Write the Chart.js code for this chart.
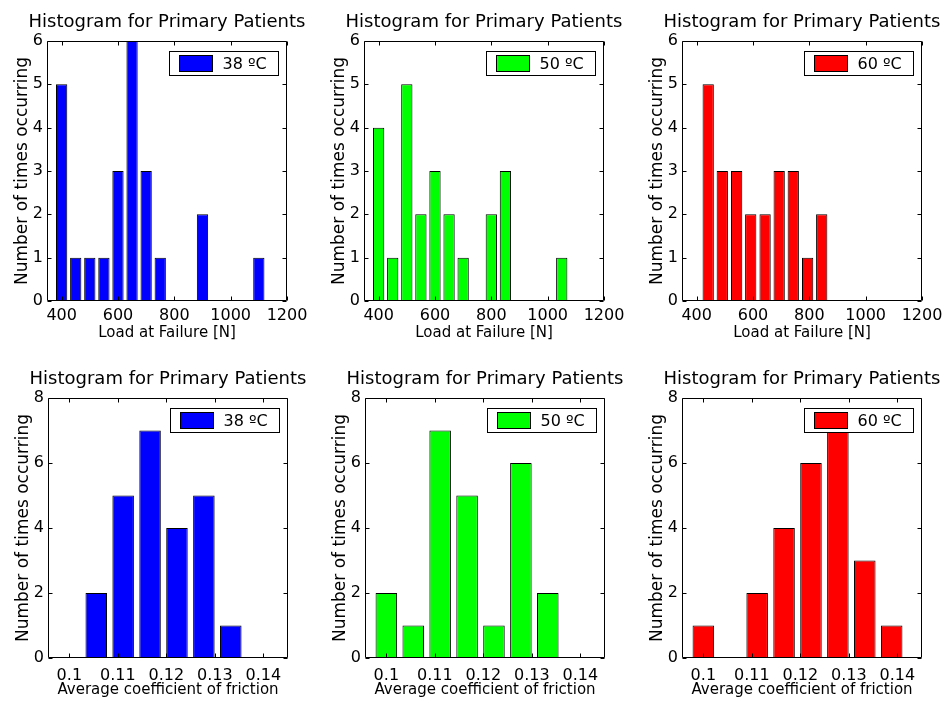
<!DOCTYPE html>
<html>
<head>
<meta charset="utf-8">
<title>Histogram for Primary Patients</title>
<script src="https://cdn.jsdelivr.net/npm/chart.js@4"></script>
<style>
  html, body { margin: 0; padding: 0; background: #fff; width: 944px; height: 708px; overflow: hidden; }
  canvas { position: absolute; }
</style>
</head>
<body>
<canvas id="load38" width="320" height="350" style="left:7px;top:0px"></canvas>
<canvas id="load50" width="320" height="350" style="left:324px;top:0px"></canvas>
<canvas id="load60" width="320" height="350" style="left:642px;top:0px"></canvas>
<canvas id="fric38" width="320" height="358" style="left:8px;top:350px"></canvas>
<canvas id="fric50" width="320" height="358" style="left:325px;top:350px"></canvas>
<canvas id="fric60" width="320" height="358" style="left:642px;top:350px"></canvas>
<script>
// values
const loadBins = [400, 450, 500, 550, 600, 650, 700, 750, 800, 850, 900, 950, 1000, 1050, 1100, 1150, 1200];
const load38Counts = [5, 1, 1, 1, 3, 6, 3, 1, 0, 0, 2, 0, 0, 0, 1, 0, 0];
const load50Counts = [4, 1, 5, 2, 3, 2, 1, 0, 2, 3, 0, 0, 0, 1, 0, 0, 0];
const load60Bins = [441, 491, 542, 592, 643, 693, 743, 794, 844, 894, 945, 995, 1045, 1096, 1146, 1196];
const load60Counts = [5, 3, 3, 2, 2, 3, 3, 1, 2, 0, 0, 0, 0, 0, 0, 0];

const frictionBins = [0.1, 0.10555, 0.1111, 0.11665, 0.1222, 0.12775, 0.1333, 0.13885, 0.1444];
const fric38Counts = [0, 2, 5, 7, 4, 5, 1, 0, 0];
const fric50Counts = [2, 1, 7, 5, 1, 6, 2, 0, 0];
const fric60Counts = [1, 0, 2, 4, 6, 7, 3, 1, 0];

const loadTicks = [400, 600, 800, 1000, 1200];
const frictionTicks = [0.1, 0.11, 0.12, 0.13, 0.14];
const loadCountTicks = [0, 1, 2, 3, 4, 5, 6];
const frictionCountTicks = [0, 2, 4, 6, 8];

const tempLabels = ['38 ºC', '50 ºC', '60 ºC'];
const tempColors = ['#0000ff', '#00ff00', '#ff0000'];
const plotTitle = 'Histogram for Primary Patients';

Chart.defaults.font.family = '"DejaVu Sans", sans-serif';
Chart.defaults.color = '#000';

// matlab style title, box, inward tick marks and legend inside the axes
const matlabAxes = {
    id: 'matlabAxes',
    afterDatasetsDraw(chart, args, opts) {
        const ctx = chart.ctx;
        const a = chart.chartArea;
        const x = chart.scales.x, y = chart.scales.y;
        const l = Math.round(a.left) + 0.5, r = Math.round(a.right) - 0.5;
        const t = Math.round(a.top) + 0.5, b = Math.round(a.bottom) - 0.5;
        ctx.save();

        // title centred over the axes, may run wider than them
        ctx.fillStyle = '#000';
        ctx.font = '18px "DejaVu Sans"';
        ctx.textAlign = 'center';
        ctx.textBaseline = 'alphabetic';
        ctx.fillText(opts.title, (a.left + a.right) / 2, a.top - 14);

        ctx.strokeStyle = '#000';
        ctx.lineWidth = 1;
        ctx.beginPath();
        ctx.rect(l, t, r - l, b - t);
        x.ticks.forEach(tk => {
            const px = Math.round(x.getPixelForValue(tk.value)) + 0.5;
            ctx.moveTo(px, b); ctx.lineTo(px, b - 4);
            ctx.moveTo(px, t); ctx.lineTo(px, t + 4);
        });
        y.ticks.forEach(tk => {
            const py = Math.round(y.getPixelForValue(tk.value)) + 0.5;
            ctx.moveTo(l, py); ctx.lineTo(l + 4, py);
            ctx.moveTo(r, py); ctx.lineTo(r - 4, py);
        });
        ctx.stroke();

        const ds = chart.data.datasets[0];
        const bw = 109, bh = 24;
        const bx = Math.round(a.right - 9 - bw) + 0.5;
        const by = Math.round(a.top + 10) + 0.5;
        ctx.fillStyle = '#fff';
        ctx.fillRect(bx, by, bw, bh);
        ctx.strokeRect(bx, by, bw, bh);
        ctx.fillStyle = ds.backgroundColor;
        ctx.fillRect(bx + 10, by + 4, 33, 16);
        ctx.strokeRect(bx + 10, by + 4, 33, 16);
        ctx.fillStyle = '#000';
        ctx.font = '16px "DejaVu Sans"';
        ctx.textBaseline = 'middle';
        ctx.textAlign = 'left';
        ctx.fillText(ds.label, bx + 53, by + bh / 2 + 1);
        ctx.restore();
    }
};

function histChart(canvasId, bins, counts, label, color, isLoad) {
    const ctx = document.getElementById(canvasId).getContext('2d');
    const xTicks = isLoad ? loadTicks : frictionTicks;
    const yTicks = isLoad ? loadCountTicks : frictionCountTicks;
    return new Chart(ctx, {
        type: 'bar',
        data: {
            datasets: [{
                label: label,
                data: bins.map((b, i) => ({ x: b, y: counts[i] })),
                backgroundColor: color,
                borderColor: '#000',
                borderWidth: 1,
                borderSkipped: false,
                barPercentage: 0.8,
                categoryPercentage: 1
            }]
        },
        options: {
            responsive: false,
            animation: false,
            layout: { padding: { left: 0, right: 40, top: isLoad ? 41 : 48, bottom: 0 } },
            plugins: {
                legend: { display: false },
                tooltip: { enabled: false },
                title: { display: false },
                matlabAxes: { title: plotTitle }
            },
            scales: {
                x: {
                    type: 'linear',
                    offset: false,
                    min: isLoad ? 348 : 0.0956,
                    max: isLoad ? 1200 : 0.1451,
                    grid: { display: false, drawTicks: false },
                    border: { display: false },
                    afterBuildTicks: s => { s.ticks = xTicks.map(v => ({ value: v })); },
                    afterFit: s => { s.height = isLoad ? 49 : 50; },
                    ticks: { font: { size: 16 }, padding: isLoad ? 5 : 8, maxRotation: 0, autoSkip: false, callback: v => String(v) },
                    title: {
                        display: true,
                        text: isLoad ? 'Load at Failure [N]' : 'Average coefficient of friction',
                        font: { size: 15 },
                        padding: { top: 0, bottom: isLoad ? 8 : 9 }
                    }
                },
                y: {
                    min: 0,
                    max: isLoad ? 6 : 8,
                    grid: { display: false, drawTicks: false },
                    border: { display: false },
                    afterBuildTicks: s => { s.ticks = yTicks.map(v => ({ value: v })); },
                    afterFit: s => { s.width = 40; },
                    ticks: { font: { size: 16 }, padding: 4, callback: v => String(v) },
                    title: {
                        display: true,
                        text: 'Number of times occurring',
                        font: { size: 17 },
                        padding: { top: 5, bottom: 0 }
                    }
                }
            }
        },
        plugins: [matlabAxes]
    });
}

document.addEventListener('DOMContentLoaded', () => {
    histChart('load38', loadBins, load38Counts, tempLabels[0], tempColors[0], true);
    histChart('load50', loadBins, load50Counts, tempLabels[1], tempColors[1], true);
    histChart('load60', load60Bins, load60Counts, tempLabels[2], tempColors[2], true);
    histChart('fric38', frictionBins, fric38Counts, tempLabels[0], tempColors[0], false);
    histChart('fric50', frictionBins, fric50Counts, tempLabels[1], tempColors[1], false);
    histChart('fric60', frictionBins, fric60Counts, tempLabels[2], tempColors[2], false);
});
</script>
</body>
</html>
